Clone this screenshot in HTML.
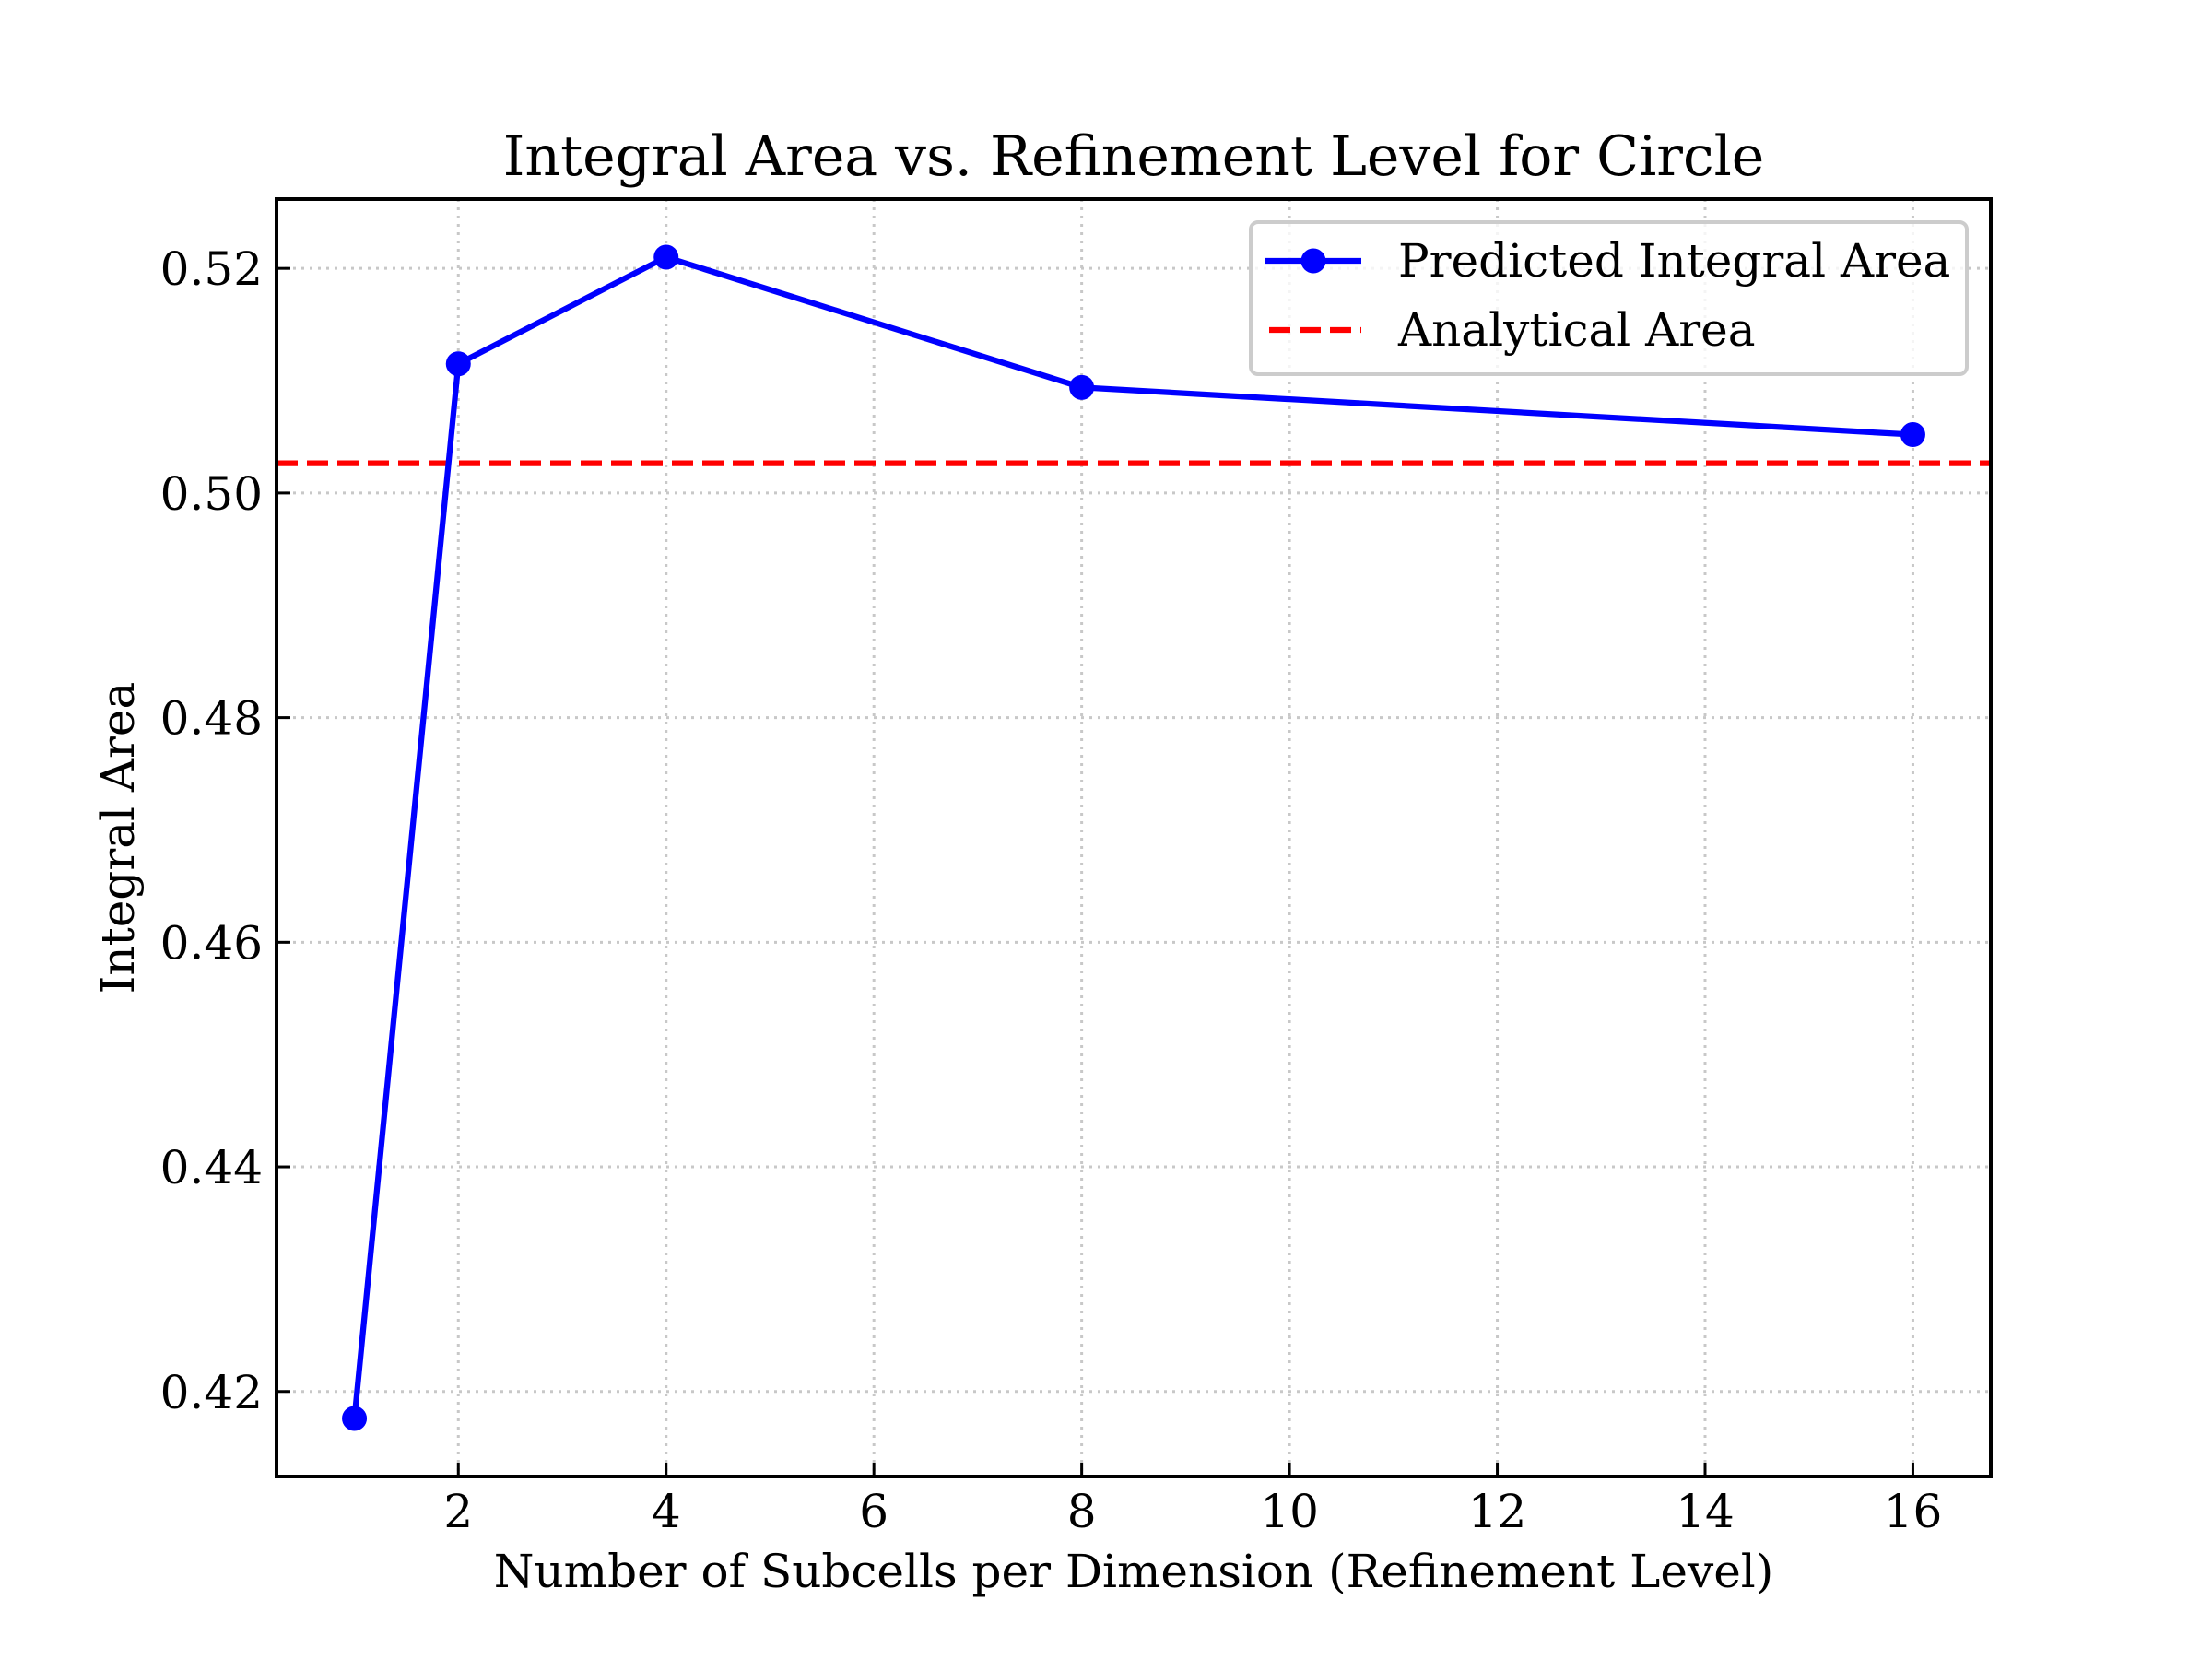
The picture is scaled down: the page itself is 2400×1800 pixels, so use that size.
<!DOCTYPE html>
<html><head><meta charset="utf-8"><style>
html,body{margin:0;padding:0;background:#fff;}
svg{display:block;}
text{font-family:"DejaVu Serif","Liberation Serif",serif;fill:#000;}
</style></head>
<body>
<svg id="chart" xmlns="http://www.w3.org/2000/svg" width="2400" height="1800" viewBox="0 0 2400 1800">
<rect width="2400" height="1800" fill="#fff"/>
<g id="grid"></g>
<g id="series"></g>
<rect x="300" y="216" width="1860" height="1386" fill="none" stroke="#000" stroke-width="4"/>
<g id="ticks"></g>
<text x="1230" y="190" font-size="60" text-anchor="middle">Integral Area vs. Refinement Level for Circle</text>
<text x="1230" y="1722" font-size="50" text-anchor="middle">Number of Subcells per Dimension (Refinement Level)</text>
<text x="0" y="0" font-size="50" text-anchor="middle" transform="translate(145,909) rotate(-90)">Integral Area</text>
<g>
<rect x="1357" y="241" width="777" height="165" rx="8" fill="#fff" fill-opacity="0.8" stroke="#cccccc" stroke-width="4"/>
<g>
<line x1="1373" y1="283" x2="1477" y2="283" stroke="#0000ff" stroke-width="6.25"/>
<circle cx="1425" cy="283" r="13.5" fill="#0000ff"/>
<text x="1517" y="300" font-size="50">Predicted Integral Area</text>
</g>
<g>
<line x1="1377" y1="358" x2="1477" y2="358" stroke="#ff0000" stroke-width="6.25" stroke-dasharray="23 10"/>
<text x="1517" y="375" font-size="50">Analytical Area</text>
</g>
</g>
</svg>
<script>
const categories = [1, 2, 4, 8, 16];
const predicted = [0.4176, 0.5115, 0.5210, 0.5094, 0.5052];
const analytical = [0.50265];
const xTicks = [2, 4, 6, 8, 10, 12, 14, 16];
const yTicks = [0.42, 0.44, 0.46, 0.48, 0.50, 0.52];
const yTickLabels = ["0.42", "0.44", "0.46", "0.48", "0.50", "0.52"];

const L = 300, R = 2160, T = 216, B = 1602;
const xMin = 0.25, xMax = 16.75;
const yMin = Math.min(...predicted), yMax = Math.max(...predicted);
const yPad = (yMax - yMin) * 0.05;
const y0 = yMin - yPad, y1 = yMax + yPad;
function xs(v){ return L + (v - xMin) / (xMax - xMin) * (R - L); }
function ys(v){ return B - (v - y0) / (y1 - y0) * (B - T); }
const NS = "http://www.w3.org/2000/svg";
function mk(tag, attrs, parent){
  const e = document.createElementNS(NS, tag);
  for (const k in attrs) e.setAttribute(k, attrs[k]);
  parent.appendChild(e);
  return e;
}
const grid = document.getElementById('grid');
const ticks = document.getElementById('ticks');
const series = document.getElementById('series');

xTicks.forEach(t => {
  const x = xs(t);
  const g = mk('line', {x1:x, y1:T, x2:x, y2:B, stroke:'#c8c8c8', 'stroke-width':3, 'stroke-dasharray':'3 6'}, grid);
  
  
  const tk = mk('line', {x1:x, y1:B, x2:x, y2:B-15, stroke:'#000', 'stroke-width':3}, ticks);
  
  
  const lb = mk('text', {x:x, y:1657, 'font-size':50, 'text-anchor':'middle'}, ticks);
  lb.textContent = String(t);
  
  
});
yTicks.forEach((t, i) => {
  const y = ys(t);
  const g = mk('line', {x1:L, y1:y, x2:R, y2:y, stroke:'#c8c8c8', 'stroke-width':3, 'stroke-dasharray':'3 6'}, grid);
  
  
  const tk = mk('line', {x1:L, y1:y, x2:L+15, y2:y, stroke:'#000', 'stroke-width':3}, ticks);
  
  
  const lb = mk('text', {x:285, y:y+18, 'font-size':50, 'text-anchor':'end'}, ticks);
  lb.textContent = yTickLabels[i];
  
  
});

const ref = mk('line', {x1:L, y1:ys(analytical[0]), x2:R, y2:ys(analytical[0]), stroke:'#ff0000', 'stroke-width':6.25, 'stroke-dasharray':'23 10'}, series);



const pts = categories.map((c, i) => xs(c) + ',' + ys(predicted[i])).join(' ');
const pl = mk('polyline', {points:pts, fill:'none', stroke:'#0000ff', 'stroke-width':6.25, 'stroke-linejoin':'round'}, series);


categories.forEach((c, i) => {
  const p = mk('circle', {cx:xs(c), cy:ys(predicted[i]), r:13.5, fill:'#0000ff'}, series);
  
  
});
</script>
</body></html>
